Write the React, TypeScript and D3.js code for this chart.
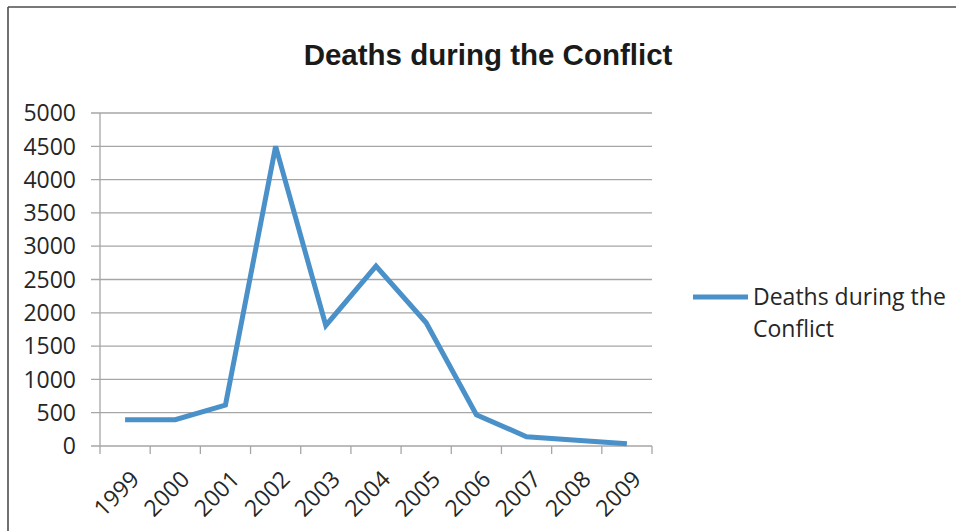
import React from "react";
import * as d3 from "d3";

const years = ["1999","2000","2001","2002","2003","2004","2005","2006","2007","2008","2009"];
const deaths = [395, 395, 615, 4500, 1810, 2700, 1850, 470, 140, 85, 35];
const yTicks = [0, 500, 1000, 1500, 2000, 2500, 3000, 3500, 4000, 4500, 5000];
const title = "Deaths during the Conflict";
const legendLines = ["Deaths during the", "Conflict"];

const W = 956, H = 531;
const plot = { left: 100, right: 652, top: 113, bottom: 446 };
const lineColor = "#4a90c9";
const gridColor = "#a6a6a6";
const font = "'Open Sans', Lato, sans-serif";
const fs = 23;

export default function App() {
  const x = d3.scaleBand().domain(years).range([plot.left, plot.right]);
  const y = d3.scaleLinear().domain([0, 5000]).range([plot.bottom, plot.top]);
  const line = d3.line<number>()
    .x((_, i) => (x(years[i]) as number) + x.bandwidth() / 2)
    .y(d => y(d));
  const boundaries = [...years.map(yr => x(yr) as number), plot.right];

  return (
    <svg width={W} height={H} style={{ position: "absolute", left: 0, top: 0, background: "#fff" }}>
      <rect x={0} y={0} width={W} height={H} fill="#fff" />
      <line x1={8} y1={7} x2={W} y2={7} stroke="#4d4d4d" strokeWidth={1.6} />
      <line x1={8} y1={7} x2={8} y2={H} stroke="#4d4d4d" strokeWidth={1.6} />
      <text x={488} y={65} textAnchor="middle" fontFamily="'Liberation Sans', Arial, sans-serif"
        fontWeight="bold" fontSize={29.5} fill="#1a1a1a">{title}</text>
      {yTicks.map(t => (
        <g key={t}>
          <line x1={plot.left - 9} x2={plot.right} y1={y(t)} y2={y(t)} stroke={gridColor} strokeWidth={1.3} />
          <text x={76} y={y(t)} dy="0.36em" textAnchor="end" fontFamily={font} fontSize={fs} fill="#262626">{t}</text>
        </g>
      ))}
      <line x1={plot.left} x2={plot.left} y1={plot.top} y2={plot.bottom} stroke={gridColor} strokeWidth={1.3} />
      {boundaries.map((bx, i) => (
        <line key={i} x1={bx} x2={bx} y1={plot.bottom} y2={plot.bottom + 8} stroke={gridColor} strokeWidth={1.3} />
      ))}
      {years.map(yr => {
        const cx = (x(yr) as number) + x.bandwidth() / 2 + 4;
        const cy = plot.bottom + 23;
        return (
          <text key={yr} x={cx} y={cy} textAnchor="end" dy="0.72em"
            transform={`rotate(-45 ${cx} ${cy})`} fontFamily={font} fontSize={fs} fill="#262626">{yr}</text>
        );
      })}
      <path d={line(deaths) || ""} fill="none" stroke={lineColor} strokeWidth={5} strokeLinejoin="miter" />
      <line x1={693} x2={748} y1={297} y2={297} stroke={lineColor} strokeWidth={5} />
      {legendLines.map((t, i) => (
        <text key={i} x={753} y={305 + i * 32} fontFamily={font} fontSize={fs} fill="#262626">{t}</text>
      ))}
    </svg>
  );
}
